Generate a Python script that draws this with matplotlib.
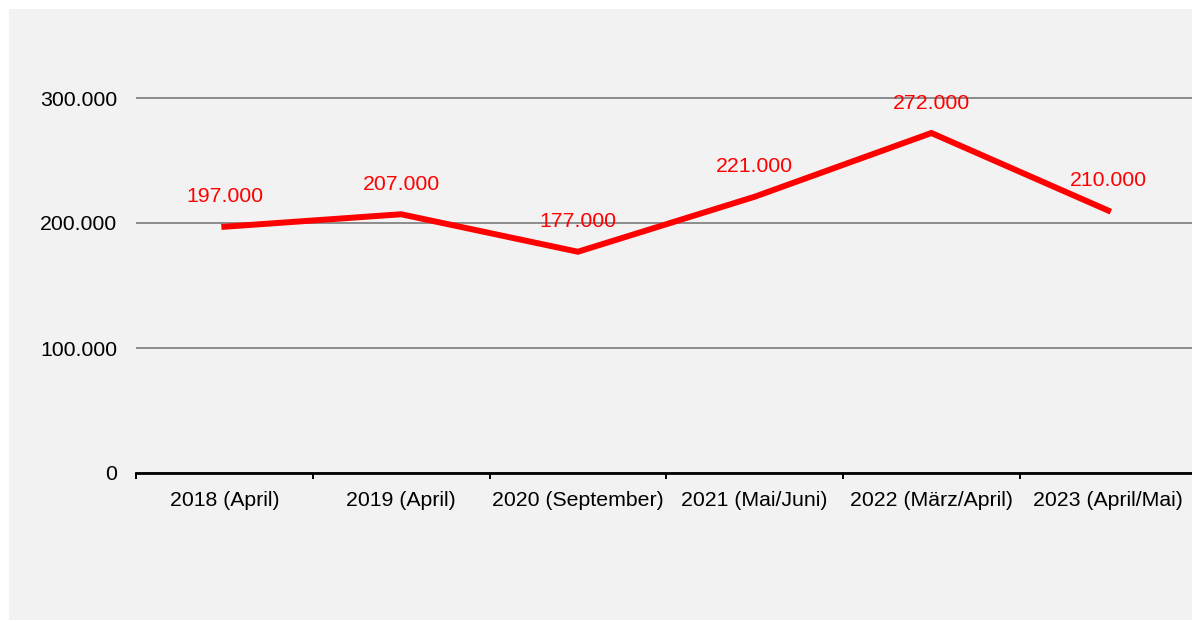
import matplotlib
matplotlib.use("Agg")
import matplotlib.pyplot as plt
from matplotlib.ticker import FuncFormatter, FixedLocator
from matplotlib.patches import Rectangle

plt.rcParams['font.family'] = ['Liberation Sans', 'DejaVu Sans']

categories = ["2018 (April)", "2019 (April)", "2020 (September)", "2021 (Mai/Juni)",
              "2022 (März/April)", "2023 (April/Mai)"]
values = [197000, 207000, 177000, 221000, 272000, 210000]
yticks = [0, 100000, 200000, 300000]


def de_fmt(v, pos=None):
    return f"{v:,.0f}".replace(",", ".")


fig = plt.figure(figsize=(11.92, 6.21), dpi=100, facecolor='white')
# grey panel behind the chart
fig.patches.append(Rectangle((9 / 1192, 1 / 621), 1, 611 / 621, transform=fig.transFigure,
                             facecolor='#f2f2f2', edgecolor='none', zorder=-10))

ax = fig.add_axes([136 / 1192, 148 / 621, 1060.5 / 1192, 437.5 / 621])
ax.set_facecolor('none')

x = list(range(len(categories)))
ax.plot(x, values, color='#ff0000', linewidth=4.3, solid_joinstyle='miter', zorder=3)

for xi, v in zip(x, values):
    ax.annotate(de_fmt(v), xy=(xi, v), xytext=(0, 21.5), textcoords='offset points',
                ha='center', va='center', color='#ff0000', fontsize=15.3, zorder=4)

ax.set_xlim(-0.5, len(categories) - 0.5)
ax.set_ylim(0, 350000)

ax.set_yticks(yticks)
ax.yaxis.set_major_formatter(FuncFormatter(de_fmt))
ax.tick_params(axis='y', length=0, pad=13.5, labelsize=15.3, colors='#000000')
ax.grid(axis='y', color='#8c8c8c', linewidth=1.4)
ax.set_axisbelow(True)

ax.set_xticks(x)
ax.set_xticklabels(categories)
ax.xaxis.set_minor_locator(FixedLocator([i - 0.5 for i in range(len(categories) + 1)]))
ax.tick_params(axis='x', which='major', length=0, pad=13, labelsize=15.3)
ax.tick_params(axis='x', which='minor', length=4, width=1.4, direction='out', color='black')

for s in ['top', 'right', 'left']:
    ax.spines[s].set_visible(False)
ax.spines['bottom'].set_color('black')
ax.spines['bottom'].set_linewidth(2)

fig.savefig("out.png", dpi=100, facecolor=fig.get_facecolor())
